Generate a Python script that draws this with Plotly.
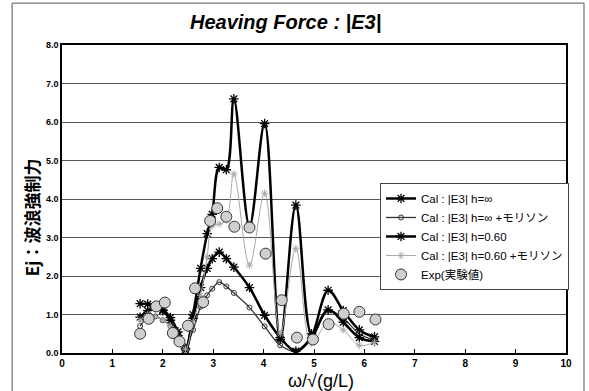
import plotly.graph_objects as go

# Frequency points shared by the calculated curves
x_cal = [1.55, 1.70, 1.85, 2.00, 2.15, 2.30, 2.45, 2.60, 2.75, 2.88, 2.98, 3.12, 3.26, 3.41,
         3.72, 4.02, 4.33, 4.64, 4.95, 5.28, 5.58, 5.90, 6.20]

# Cal : |E3| h=inf
e3_inf = [1.28, 1.27, 1.22, 1.12, 0.92, 0.55, 0.12, 1.00, 2.20, 3.10, 3.60, 4.82, 4.76, 6.60,
          3.30, 5.96, 0.35, 3.84, 0.50, 1.63, 1.10, 0.60, 0.42]
# Cal : |E3| h=inf + Morison
e3_inf_mor = [0.70, 0.92, 0.95, 0.85, 0.70, 0.40, 0.15, 0.60, 1.20, 1.50, 1.67, 1.84, 1.73, 1.56,
              1.18, 0.69, 0.20, 0.05, 0.35, 1.10, 0.90, 0.50, 0.33]
# Cal : |E3| h=0.60
e3_060 = [0.93, 1.10, 1.20, 1.10, 0.85, 0.45, 0.08, 0.90, 1.70, 2.20, 2.45, 2.62, 2.45, 2.23,
          1.70, 0.98, 0.40, 0.05, 0.40, 1.12, 0.80, 0.40, 0.30]
# Cal : |E3| h=0.60 + Morison
e3_060_mor = [0.85, 1.00, 0.95, 0.85, 0.70, 0.40, 0.10, 0.80, 1.50, 2.50, 3.30, 3.35, 3.45, 4.65,
              2.28, 4.15, 0.50, 2.71, 0.25, 0.80, 0.60, 0.20, 0.28]

# Experiment
x_exp = [1.55, 1.72, 1.87, 2.04, 2.20, 2.33, 2.50, 2.64, 2.80, 2.94, 3.08, 3.26, 3.42, 3.72,
         4.04, 4.36, 4.66, 4.98, 5.29, 5.59, 5.90, 6.22]
y_exp = [0.50, 0.89, 1.21, 1.31, 0.52, 0.30, 0.71, 1.68, 1.32, 3.43, 3.76, 3.54, 3.28, 3.26,
         2.58, 1.37, 0.40, 0.35, 0.75, 1.02, 1.07, 0.87]

names = ["Cal : |E3| h=∞", "Cal : |E3| h=∞ +モリソン", "Cal : |E3| h=0.60",
         "Cal : |E3| h=0.60 +モリソン", "Exp(実験値)"]
x_ticks = list(range(0, 11))
y_ticks = [0, 1, 2, 3, 4, 5, 6, 7, 8]

FONT = "Liberation Sans Narrow, Liberation Sans, Noto Sans CJK JP"
JP = "Liberation Sans, Noto Sans CJK JP"

fig = go.Figure()
fig.add_trace(go.Scatter(x=x_cal, y=e3_inf, name=names[0], mode="lines+markers",
                         line=dict(color="black", width=2.5, shape="spline"),
                         marker=dict(symbol="asterisk-open", size=8, color="black",
                                     line=dict(color="black", width=1.3))))
fig.add_trace(go.Scatter(x=x_cal, y=e3_inf_mor, name=names[1], mode="lines+markers",
                         line=dict(color="#333333", width=1.3, shape="spline"),
                         marker=dict(symbol="circle-open", size=5, color="#333333",
                                     line=dict(color="#333333", width=1))))
fig.add_trace(go.Scatter(x=x_cal, y=e3_060, name=names[2], mode="lines+markers",
                         line=dict(color="black", width=2.5, shape="spline"),
                         marker=dict(symbol="asterisk-open", size=8, color="black",
                                     line=dict(color="black", width=1.3))))
fig.add_trace(go.Scatter(x=x_cal, y=e3_060_mor, name=names[3], mode="lines+markers",
                         line=dict(color="#a8a8a8", width=1, shape="spline"),
                         marker=dict(symbol="asterisk-open", size=6, color="#a8a8a8",
                                     line=dict(color="#a8a8a8", width=1))))
fig.add_trace(go.Scatter(x=x_exp, y=y_exp, name=names[4], mode="markers",
                         marker=dict(symbol="circle", size=11, color="#cfcfcf",
                                     line=dict(color="#333333", width=1))))

fig.update_layout(
    width=589, height=391,
    margin=dict(l=62, r=23, t=45, b=38),
    paper_bgcolor="white", plot_bgcolor="white",
    font=dict(family=FONT, color="black"),
    showlegend=True,
    legend=dict(x=0.631, y=0.552, xanchor="left", yanchor="top",
                bgcolor="white", bordercolor="#444444", borderwidth=1,
                font=dict(family=JP, size=11.5, color="black"),
                tracegroupgap=0, itemwidth=30),
    xaxis=dict(range=[0, 10], tickvals=x_ticks, ticktext=[str(v) for v in x_ticks],
               showgrid=False, zeroline=False, showline=True, linecolor="black",
               linewidth=1.5, mirror=True, ticks="inside", ticklen=4, tickcolor="black",
               tickfont=dict(family=FONT, size=10, color="black", weight="bold")),
    yaxis=dict(range=[0, 8], tickvals=y_ticks, ticktext=[f"{v:.1f}" for v in y_ticks],
               showgrid=True, gridcolor="#555555", gridwidth=1, zeroline=False,
               showline=True, linecolor="black", linewidth=1.5, mirror=True,
               ticks="", tickfont=dict(family=FONT, size=9, color="black", weight="bold")),
)

# Chart title
fig.add_annotation(text="<b><i>Heaving Force : |E3|</i></b>", xref="paper", yref="paper",
                   x=0.4425, y=1.075, xanchor="center", yanchor="middle", showarrow=False,
                   font=dict(family=FONT, size=20, color="black"))
# Axis titles
fig.add_annotation(text="Ej：波浪強制力", xref="paper", yref="paper", x=-0.06, y=0.44,
                   textangle=-90, xanchor="center", yanchor="middle", showarrow=False,
                   font=dict(family="Noto Sans CJK JP", size=17, color="black", weight="bold"))
fig.add_annotation(text="ω/√(g/L)", xref="paper", yref="paper", x=0.514, y=-0.09,
                   xanchor="center", yanchor="middle", showarrow=False,
                   font=dict(family="Liberation Sans, Noto Sans CJK JP", size=18, color="black"))
# Outer chart frame
fig.add_shape(type="rect", xref="paper", yref="paper", x0=-0.099, x1=1.0357, y0=-0.2, y1=1.136,
              line=dict(color="#555555", width=1), fillcolor="rgba(0,0,0,0)", layer="below")

fig.write_html("out.html")
